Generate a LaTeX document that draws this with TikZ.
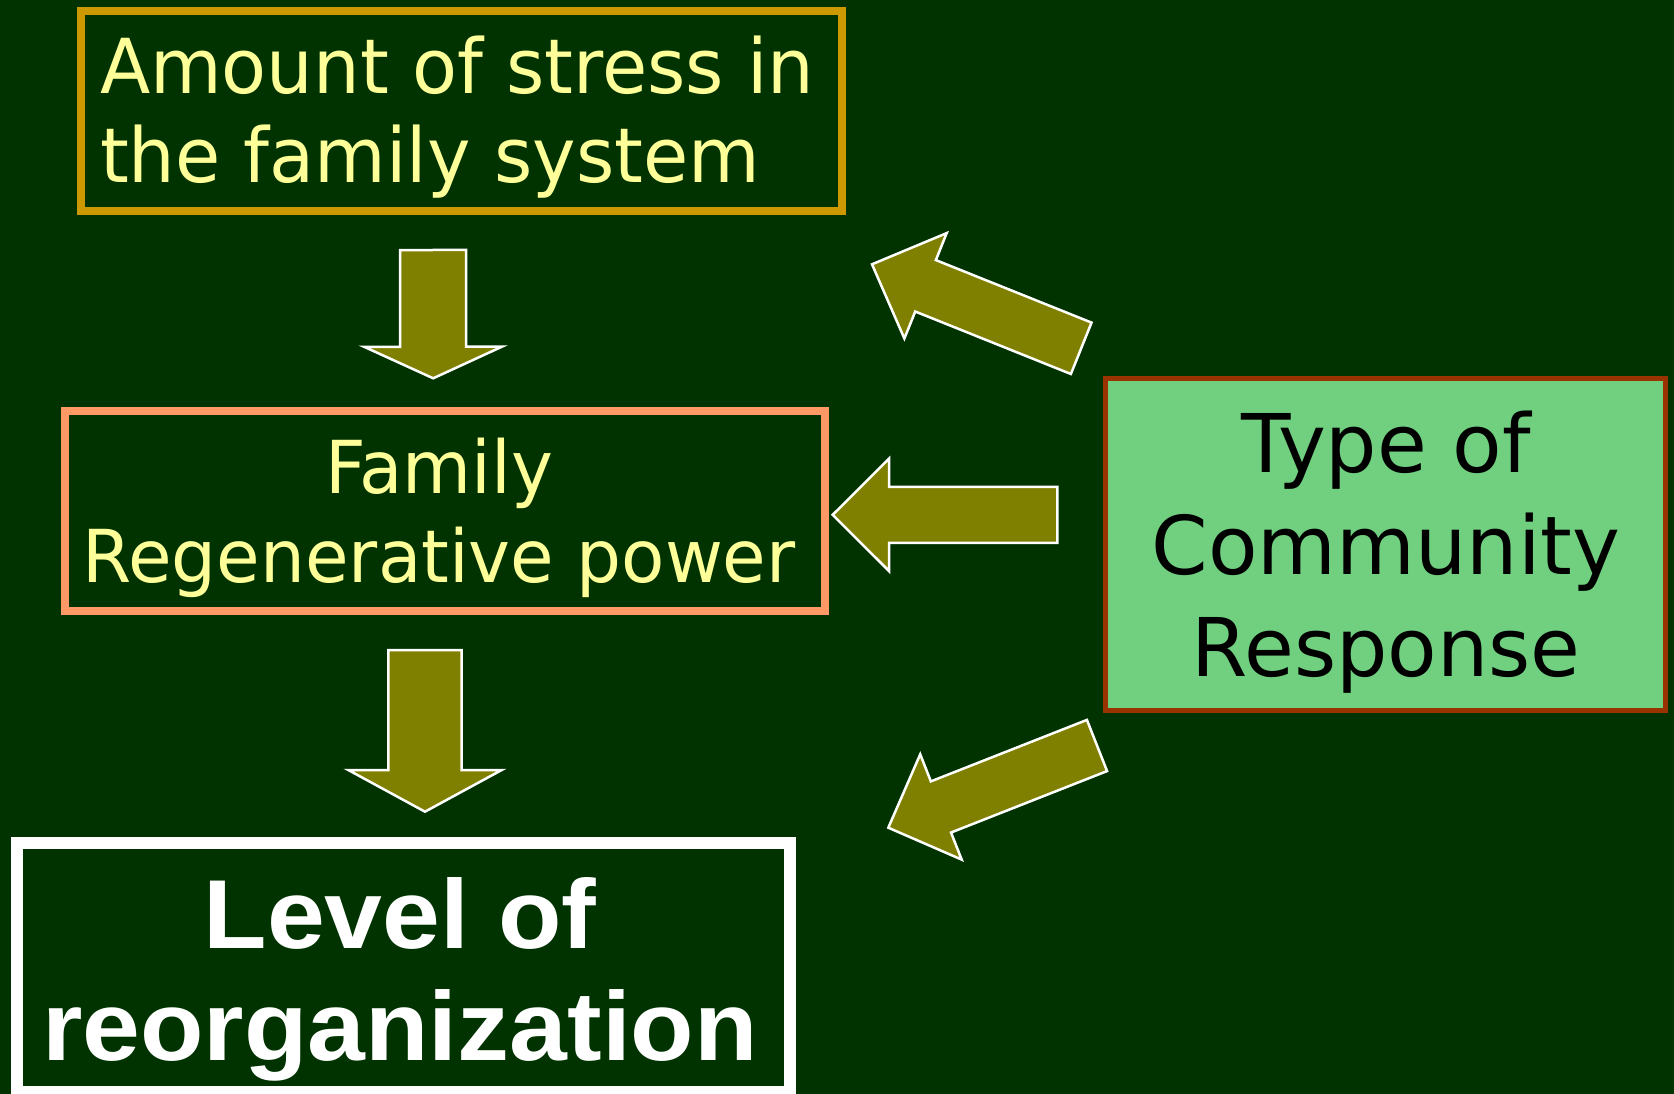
\documentclass[tikz,border=0pt]{standalone}
\usepackage{fontspec}
\setmainfont{DejaVu Sans}
\newfontfamily\slimfont[FakeStretch=0.97]{DejaVu Sans}
\newfontfamily\heavyfont[FakeStretch=1.06]{Liberation Sans Bold}
\usetikzlibrary{calc}

\definecolor{slide}{HTML}{003300}
\definecolor{cream}{HTML}{FFFF99}
\definecolor{gold}{HTML}{CC9900}
\definecolor{peach}{HTML}{FF9966}
\definecolor{arrowfill}{HTML}{808000}
\definecolor{mint}{HTML}{70D080}
\definecolor{rust}{HTML}{993300}

\tikzset{
  box/.style={rectangle, inner sep=0pt, outer sep=0pt},
  stressbox/.style={box, draw=gold, line width=8pt},
  powerbox/.style={box, draw=peach, line width=8pt},
  levelbox/.style={box, draw=white, line width=12pt},
  communitybox/.style={box, draw=rust, fill=mint, line width=5pt},
  label/.style={inner sep=0pt, outer sep=0pt},
  fatarrow/.style={fill=arrowfill, draw=white, line width=2.5pt, line join=miter},
}

% block arrow from a tail centre to a tip:
% #1 tail, #2 tip, #3 shaft half-width, #4 head half-width, #5 head length
\newcommand\blockarrow[5]{%
  \coordinate (ba-h) at ($(#2)!#5!(#1)$);
  \draw[fatarrow] ($(#1)!#3!90:(#2)$) -- ($(ba-h)!#3!90:(#2)$)
    -- ($(ba-h)!#4!90:(#2)$) -- (#2) -- ($(ba-h)!#4!-90:(#2)$)
    -- ($(ba-h)!#3!-90:(#2)$) -- ($(#1)!#3!-90:(#2)$) -- cycle;}

\begin{document}
\begin{tikzpicture}[x=1pt, y=-1pt]
  \fill[slide] (0,0) rectangle (1674,1094);
  \useasboundingbox (0,0) rectangle (1674,1094);

  % boxes
  \node[stressbox, minimum width=760.7pt, minimum height=200.5pt] (stress) at (461.35,111.25) {};
  \node[powerbox, minimum width=760.5pt, minimum height=200pt] (power) at (444.75,511) {};
  \node[levelbox, minimum width=773pt, minimum height=249pt] (level) at (403.5,967.5) {};
  \node[communitybox, minimum width=560.5pt, minimum height=331.3pt] (community) at (1385.25,544.35) {};

  % texts (placed by the baseline of their last line)
  \node[label, cream, anchor=base west, align=left,
        font=\slimfont\fontsize{75.8}{89.4}\selectfont] (stresstext) at (100,182.7)
        {Amount of stress in\\the family system};
  \node[label, cream, anchor=base, align=center,
        font=\slimfont\fontsize{73}{88.8}\selectfont] (powertext) at (439,582.6)
        {Family\\Regenerative power};
  \node[label, white, anchor=base, align=center,
        font=\heavyfont\fontsize{98}{112.5}\selectfont] (leveltext) at (400,1060.8)
        {Level of\\reorganization};
  \node[label, black, anchor=base, align=center,
        font=\fontsize{81}{102.3}\selectfont] (communitytext) at (1386,676.8)
        {Type of\\Community\\Response};

  % arrow ends
  \coordinate (a1tail) at (433,250);    \coordinate (a1tip) at (433.2,378.3);
  \coordinate (a2tail) at (425,650);    \coordinate (a2tip) at (425,811.7);
  \coordinate (a3tail) at (1081.2,348.3); \coordinate (a3tip) at (872,264.3);
  \coordinate (a4tail) at (1057.3,514.8); \coordinate (a4tip) at (832.7,514.8);
  \coordinate (a5tail) at (1097,745.5); \coordinate (a5tip) at (888.3,827.7);

  % arrows
  \blockarrow{a1tail}{a1tip}{33pt}{69pt}{31.6pt}
  \blockarrow{a2tail}{a2tip}{36.7pt}{76.7pt}{41.7pt}
  \blockarrow{a3tail}{a3tip}{27.7pt}{56.8pt}{57.7pt}
  \blockarrow{a4tail}{a4tip}{28pt}{56.2pt}{56.3pt}
  \blockarrow{a5tail}{a5tip}{27.5pt}{56.6pt}{56.6pt}
\end{tikzpicture}
\end{document}
